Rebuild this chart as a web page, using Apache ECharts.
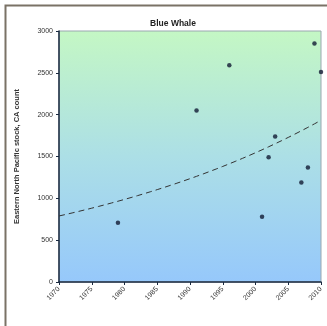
<!DOCTYPE html>
<html>
<head>
<meta charset="utf-8">
<script src="https://cdn.jsdelivr.net/npm/echarts@6/dist/echarts.min.js"></script>
<style>
html, body { margin: 0; padding: 0; background: #fff; }
#main { width: 327px; height: 326px; }
</style>
</head>
<body>
<div id="main"></div>
<script>
var chart = echarts.init(document.getElementById('main'));

// survey years and counts
var years = [1979, 1991, 1996, 2001, 2002, 2003, 2007, 2008, 2009, 2010];
var counts = [708, 2050, 2590, 780, 1490, 1740, 1190, 1370, 2850, 2510];
var xTicks = [1970, 1975, 1980, 1985, 1990, 1995, 2000, 2005, 2010];

// exponential trendline (least squares on log counts), like the spreadsheet did
function expFit(xs, ys) {
    var n = xs.length, mx = 0, my = 0;
    for (var i = 0; i < n; i++) { mx += xs[i]; my += Math.log(ys[i]); }
    mx /= n; my /= n;
    var sxy = 0, sxx = 0;
    for (var j = 0; j < n; j++) {
        sxy += (xs[j] - mx) * (Math.log(ys[j]) - my);
        sxx += (xs[j] - mx) * (xs[j] - mx);
    }
    var k = sxy / sxx;
    var out = [];
    for (var x = xTicks[0]; x <= xTicks[xTicks.length - 1]; x++) {
        out.push([x, Math.exp(my + k * (x - mx))]);
    }
    return out;
}

var points = [];
for (var i = 0; i < years.length; i++) points.push([years[i], counts[i]]);

var tickFont = { fontSize: 7, color: '#333', fontFamily: 'Liberation Sans, Arial, sans-serif' };

option = {
    backgroundColor: '#fff',
    animation: false,
    title: {
        text: 'Blue Whale',
        left: 168,
        textAlign: 'center',
        top: 14,
        textStyle: { fontSize: 8.5, fontWeight: 'bold', color: '#222', fontFamily: 'Liberation Sans, Arial, sans-serif' }
    },
    graphic: [{
        type: 'polyline',
        shape: { points: [[5.5, 330], [5.5, 5.5], [330, 5.5]] },
        style: { stroke: '#7a7266', lineWidth: 2, fill: null }
    }],
    grid: {
        left: 59, top: 31, right: 6, bottom: 44,
        show: true,
        borderColor: '#9aa8b0',
        borderWidth: 1,
        backgroundColor: {
            type: 'linear', x: 0, y: 0, x2: 0, y2: 1,
            colorStops: [
                { offset: 0, color: '#c4f7c4' },
                { offset: 0.5, color: '#acdfe6' },
                { offset: 1, color: '#96c8fb' }
            ]
        }
    },
    xAxis: {
        type: 'value',
        min: 1970, max: 2010, interval: 5,
        splitLine: { show: false },
        axisLine: { lineStyle: { color: '#1a2a40', width: 1.5 } },
        axisTick: { show: true, length: 3, lineStyle: { color: '#1a2a40' } },
        axisLabel: Object.assign({ rotate: 45, margin: 6, formatter: function (v) { return String(v); } }, tickFont)
    },
    yAxis: {
        type: 'value',
        min: 0, max: 3000, interval: 500,
        name: 'Eastern North Pacific stock, CA count',
        nameLocation: 'middle',
        nameGap: 38,
        nameTextStyle: { fontSize: 7.5, fontWeight: 'bold', color: '#333', fontFamily: 'Liberation Sans, Arial, sans-serif' },
        splitLine: { show: false },
        axisLine: { show: true, lineStyle: { color: '#1a2a40', width: 1.5 } },
        axisTick: { show: true, length: 3, lineStyle: { color: '#1a2a40' } },
        axisLabel: Object.assign({ margin: 6, formatter: function (v) { return String(v); } }, tickFont)
    },
    series: [{
        type: 'line',
        data: expFit(years, counts),
        showSymbol: false,
        smooth: false,
        lineStyle: { color: '#333', width: 1, type: [6, 4] },
        z: 2
    }, {
        type: 'scatter',
        data: points,
        symbol: 'circle',
        symbolSize: 4.5,
        itemStyle: { color: '#111a33' },
        z: 3
    }]
};
chart.setOption(option);
</script>
</body>
</html>
